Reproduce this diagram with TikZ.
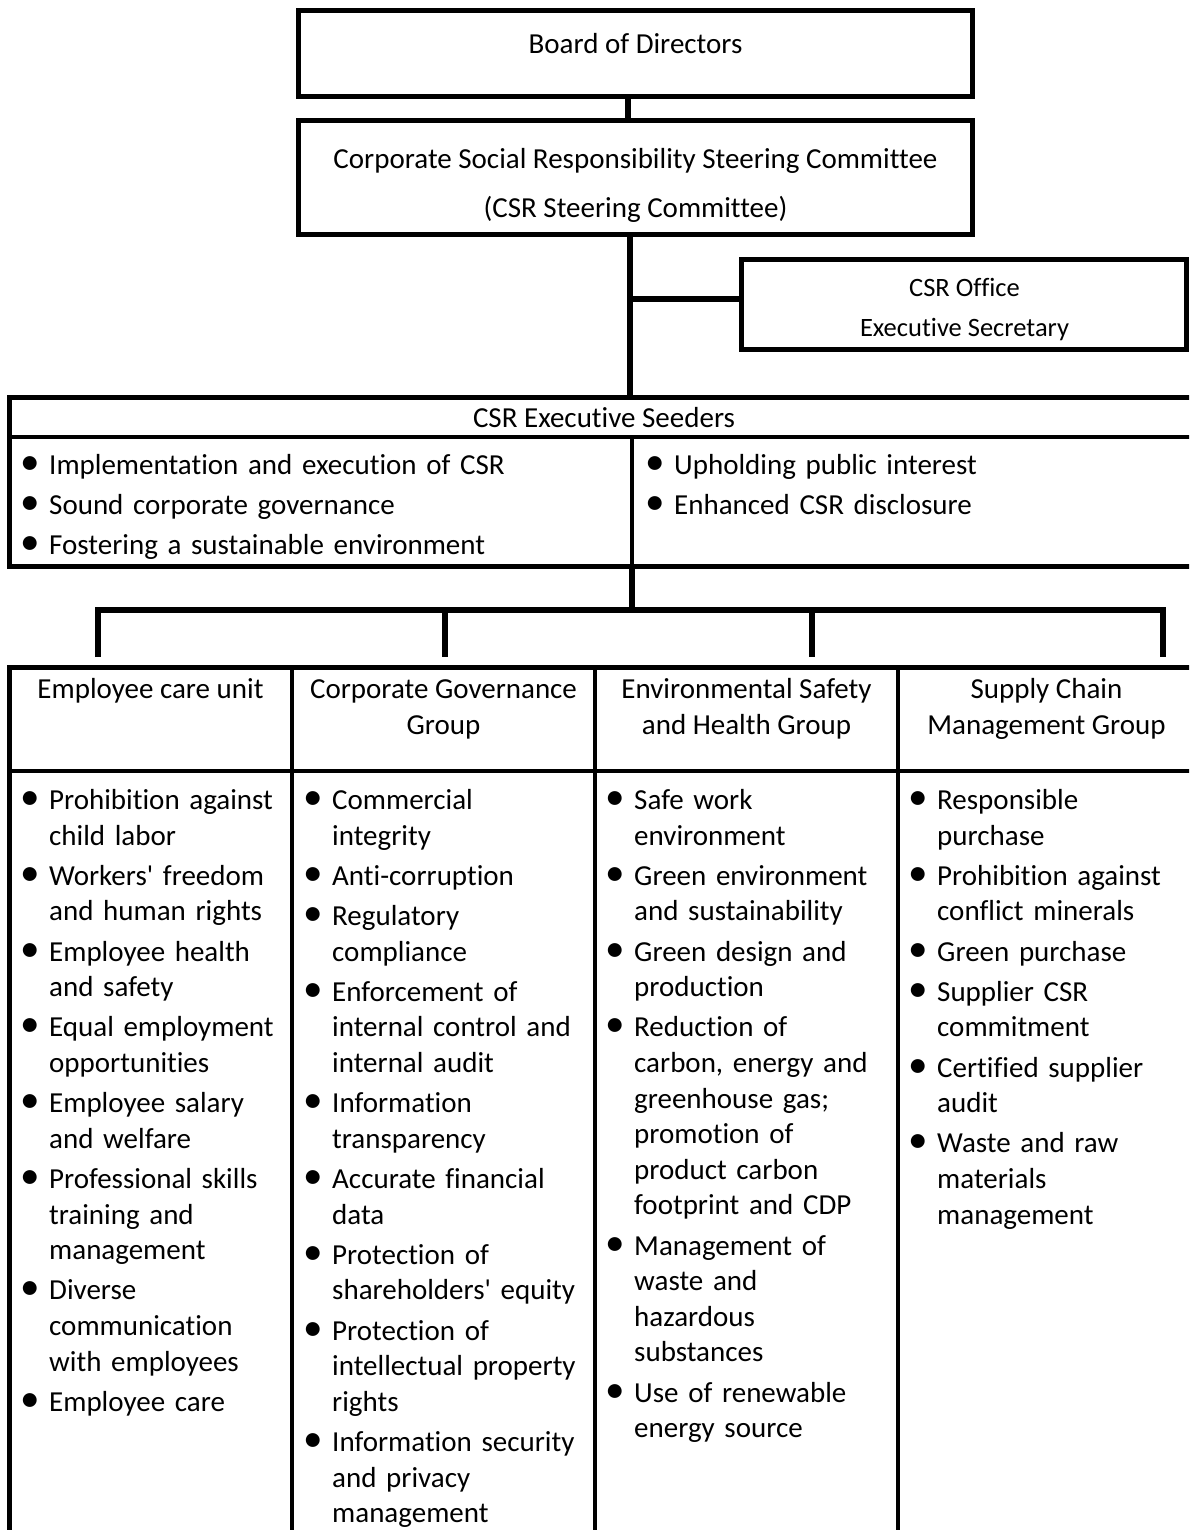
\documentclass[tikz,border=0pt]{standalone}
\usepackage{fontspec}
\setmainfont{Carlito}[Ligatures={NoCommon}]
\newlength\bulw
\setlength\bulw{38pt}
\newcommand\bi[1]{\par\noindent\hangindent=\bulw\hangafter=1\makebox[\bulw][c]{\scalebox{1.35}{\textbullet}}\strut#1\par}
\begin{document}
\begin{tikzpicture}[x=1pt,y=-1pt,
  box/.style={draw, line width=5pt, inner sep=0pt, rectangle},
  conn/.style={line width=5.5pt},
  sep/.style={line width=4.5pt},
  txt/.style={inner sep=0pt, font=\fontsize{29}{35.6}\selectfont},
  otxt/.style={inner sep=0pt, font=\fontsize{26.5}{40}\selectfont, align=center},
  head/.style={inner sep=0pt, font=\fontsize{29}{36}\selectfont, align=center, anchor=north},
  lst/.style={inner sep=0pt, anchor=north west, text width=560pt,
    font=\fontsize{29}{35.6}\selectfont\setlength\parskip{4.6pt}\setlength\parindent{0pt}\raggedright}]
\clip (0,0) rectangle (1189,1530);
\fill[white] (0,0) rectangle (1189,1530);

% top boxes
\node[box, minimum width=674, minimum height=86] (board) at (635.5,53.5) {};
\node[box, minimum width=674, minimum height=114] (steer) at (635.5,177.5) {};
\node[box, minimum width=444.5, minimum height=90] (office) at (963.75,304.5) {};
\node[box, minimum width=1191, minimum height=169] (seed) at (604.5,482) {};
\node[box, minimum width=1191, minimum height=880] (tbl) at (604.5,1107) {};

% texts top
\node[txt, anchor=base] (boardt) at (635.5,54) {Board of Directors};
\node[inner sep=0pt, font=\fontsize{29}{49}\selectfont, align=center, anchor=north] (steert) at (635.5,133.7)
  {\strut Corporate Social Responsibility Steering Committee\\(CSR Steering Committee)};
\node[otxt, anchor=north] (officet) at (964.5,268) {\strut CSR Office\\Executive Secretary};
\node[txt, anchor=base] (seedt) at (604,427) {CSR Executive Seeders};

% seeders inner lines
\coordinate (sh1) at (9,437);
\coordinate (sh2) at (1200,437);
\draw[sep] (sh1) -- (sh2);
\coordinate (sd1) at (632,437);
\coordinate (sd2) at (632,566.5);
\draw[line width=4pt] (sd1) -- (sd2);

\node[lst] (seedl) at (11,434.1) {\bi{Implementation and execution of CSR}\bi{Sound corporate governance}\bi{Fostering a sustainable environment}};
\node[lst] (seedr) at (636,434.1) {\bi{Upholding public interest}\bi{Enhanced CSR disclosure}};

% connectors top
\draw[conn] ([xshift=-7.5pt]board.south) -- ([xshift=-7.5pt]steer.north);
\coordinate (j1) at (630,299);
\draw[conn] ([xshift=-5.5pt]steer.south) -- (630,397.5);
\draw[conn] (j1) -- ([yshift=5.5pt]office.west);

% bus
\coordinate (sb) at (632,566.5);
\coordinate (bj) at (632,610);
\draw[conn] (sb) -- (bj);
\coordinate (d1) at (98,657);
\coordinate (d2) at (445,657);
\coordinate (d3) at (812,657);
\coordinate (d4) at (1163,657);
\draw[conn, line join=miter] (d1) -- (98,610) -- (1163,610) -- (d4);
\draw[conn] (445,610) -- (d2);
\draw[conn] (812,610) -- (d3);

% table lines
\draw[sep] (9,771) -- (1200,771);
\draw[sep] (292,667) -- (292,1545);
\draw[sep] (595,667) -- (595,1545);
\draw[sep] (898,667) -- (898,1545);

% headers
\node[head] (h1) at (150.5,673) {\strut Employee care unit};
\node[head] (h2) at (443.5,673) {\strut Corporate Governance\\Group};
\node[head] (h3) at (746.5,673) {\strut Environmental Safety\\and Health Group};
\node[head] (h4) at (1046.5,673) {\strut Supply Chain\\Management Group};

% lists
\node[lst] (l1) at (11,769) {%
\bi{Prohibition against\newline child labor}%
\bi{Workers\textquotesingle\ freedom\newline and human rights}%
\bi{Employee health\newline and safety}%
\bi{Equal employment\newline opportunities}%
\bi{Employee salary\newline and welfare}%
\bi{Professional skills\newline training and\newline management}%
\bi{Diverse\newline communication\newline with employees}%
\bi{Employee care}};

\node[lst] (l2) at (294,769) {%
\bi{Commercial\newline integrity}%
\bi{Anti-corruption}%
\bi{Regulatory\newline compliance}%
\bi{Enforcement of\newline internal control and\newline internal audit}%
\bi{Information\newline transparency}%
\bi{Accurate financial\newline data}%
\bi{Protection of\newline shareholders\textquotesingle\ equity}%
\bi{Protection of\newline intellectual property\newline rights}%
\bi{Information security\newline and privacy\newline management}};

\node[lst] (l3) at (596,769) {%
\bi{Safe work\newline environment}%
\bi{Green environment\newline and sustainability}%
\bi{Green design and\newline production}%
\bi{Reduction of\newline carbon, energy and\newline greenhouse gas;\newline promotion of\newline product carbon\newline footprint and CDP}%
\bi{Management of\newline waste and\newline hazardous\newline substances}%
\bi{Use of renewable\newline energy source}};

\node[lst] (l4) at (899,769) {%
\bi{Responsible\newline purchase}%
\bi{Prohibition against\newline conflict minerals}%
\bi{Green purchase}%
\bi{Supplier CSR\newline commitment}%
\bi{Certified supplier\newline audit}%
\bi{Waste and raw\newline materials\newline management}};
\end{tikzpicture}
\end{document}
